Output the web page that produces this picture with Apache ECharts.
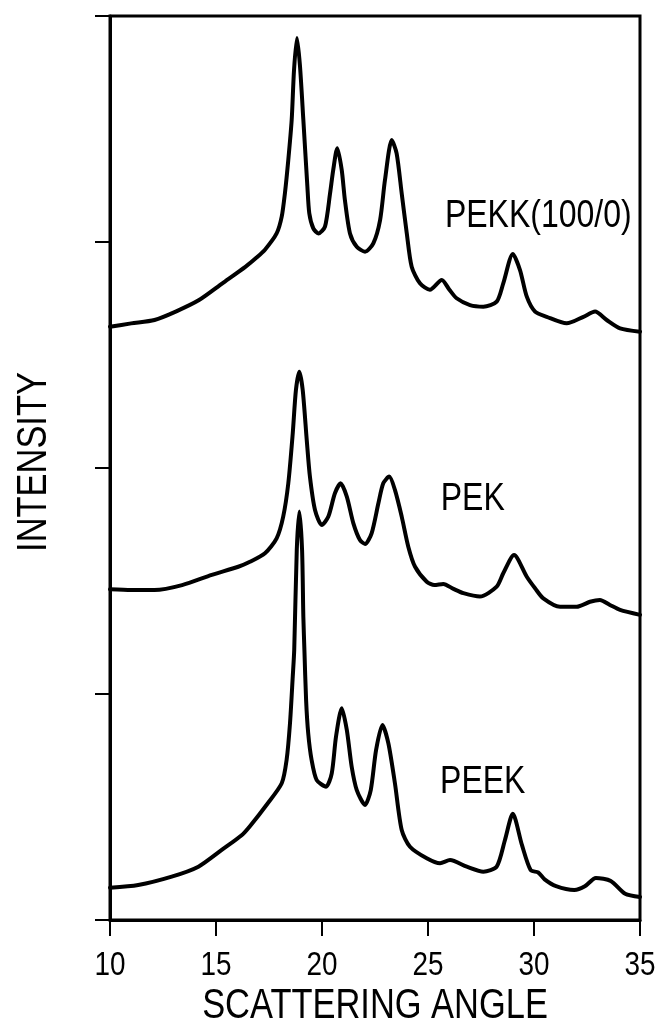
<!DOCTYPE html>
<html>
<head>
<meta charset="utf-8">
<script src="https://cdn.jsdelivr.net/npm/echarts@6/dist/echarts.min.js"></script>
<style>
  html, body { margin: 0; padding: 0; background: #fff; }
  #chart { width: 661px; height: 1029px; }
</style>
</head>
<body>
<div id="chart"></div>
<script>
// Wide-angle X-ray scattering traces, stacked with vertical offsets.
const angleTicks = [10, 15, 20, 25, 30, 35];
const xTitle = 'SCATTERING ANGLE';
const yTitle = 'INTENSITY';

const pekkAngle = [10.0, 11.0, 12.1, 13.1, 14.2, 15.3, 16.4, 16.9, 17.3, 17.86, 18.10, 18.25, 18.41, 18.57, 18.68, 18.82, 18.96, 19.12, 19.31, 19.40, 19.59, 19.83, 20.14, 20.38, 20.53, 20.72, 20.93, 21.08, 21.32, 21.64, 22.03, 22.42, 22.74, 22.97, 23.29, 23.52, 23.76, 24.0, 24.23, 24.62, 25.09, 25.65, 26.0, 26.35, 26.98, 27.61, 28.24, 28.55, 29.0, 29.34, 29.66, 30.05, 30.6, 31.54, 32.33, 32.88, 33.43, 34.06, 35.0];
const pekkIntensity = [2.625, 2.64, 2.655, 2.692, 2.743, 2.817, 2.891, 2.93, 2.965, 3.038, 3.112, 3.215, 3.363, 3.54, 3.761, 3.903, 3.78, 3.54, 3.246, 3.127, 3.06, 3.038, 3.068, 3.215, 3.319, 3.415, 3.319, 3.186, 3.038, 2.979, 2.957, 2.994, 3.097, 3.274, 3.451, 3.392, 3.215, 3.038, 2.891, 2.817, 2.789, 2.832, 2.79, 2.751, 2.721, 2.714, 2.736, 2.817, 2.947, 2.876, 2.758, 2.692, 2.669, 2.64, 2.669, 2.692, 2.655, 2.618, 2.603];

const pekAngle = [10.0, 11.0, 12.1, 13.4, 14.8, 16.05, 16.6, 17.31, 17.86, 18.17, 18.41, 18.62, 18.77, 18.93, 19.09, 19.28, 19.43, 19.67, 19.99, 20.30, 20.61, 20.88, 21.17, 21.48, 21.79, 22.03, 22.34, 22.66, 22.89, 23.17, 23.44, 23.76, 24.07, 24.39, 24.94, 25.3, 25.72, 26.2, 26.67, 27.45, 28.24, 28.55, 29.06, 29.66, 30.05, 30.44, 31.23, 32.01, 32.64, 33.11, 33.58, 34.06, 35.0];
const pekIntensity = [1.463, 1.46, 1.46, 1.482, 1.527, 1.563, 1.585, 1.623, 1.689, 1.785, 1.932, 2.153, 2.345, 2.426, 2.345, 2.124, 1.962, 1.814, 1.748, 1.785, 1.888, 1.932, 1.873, 1.755, 1.681, 1.664, 1.711, 1.844, 1.932, 1.962, 1.903, 1.785, 1.652, 1.563, 1.497, 1.482, 1.487, 1.465, 1.446, 1.431, 1.475, 1.534, 1.615, 1.519, 1.468, 1.423, 1.386, 1.386, 1.408, 1.416, 1.394, 1.372, 1.35];

const peekAngle = [10.0, 11.33, 12.91, 14.17, 15.27, 16.21, 16.6, 17.39, 18.10, 18.33, 18.49, 18.62, 18.69, 18.81, 18.93, 19.06, 19.12, 19.17, 19.25, 19.35, 19.51, 19.75, 20.19, 20.46, 20.66, 20.93, 21.17, 21.40, 21.64, 22.03, 22.30, 22.55, 22.85, 23.13, 23.44, 23.76, 24.15, 24.94, 25.57, 26.04, 26.83, 27.61, 28.24, 28.63, 29.0, 29.43, 29.84, 30.2, 30.5, 31.04, 31.9, 32.4, 32.92, 33.62, 34.3, 35.0];
const peekIntensity = [0.143, 0.155, 0.192, 0.236, 0.31, 0.375, 0.415, 0.51, 0.605, 0.708, 0.87, 1.077, 1.195, 1.637, 1.807, 1.637, 1.342, 1.195, 0.973, 0.826, 0.708, 0.619, 0.59, 0.649, 0.811, 0.937, 0.841, 0.678, 0.575, 0.509, 0.575, 0.752, 0.863, 0.782, 0.605, 0.398, 0.324, 0.273, 0.251, 0.265, 0.236, 0.214, 0.236, 0.354, 0.47, 0.332, 0.221, 0.21, 0.18, 0.15, 0.133, 0.149, 0.186, 0.173, 0.116, 0.102];

// Sample names and where each name is written (angle, intensity of the text's left-middle point)
const sampleNames = ['PEKK(100/0)', 'PEK', 'PEEK'];
const nameAnchors = [[25.8, 3.115], [25.6, 1.86], [25.57, 0.611]];

// Lettering is a narrow grotesque: regular sans, squeezed horizontally.
const FONT = "'Liberation Sans', Arial, sans-serif";
const SQUEEZE = 0.82;

function zip(xs, ys) { return xs.map((x, i) => [x, ys[i]]); }

function trace(name, xs, ys) {
  return {
    name: name,
    type: 'line',
    data: zip(xs, ys),
    showSymbol: false,
    smooth: 0.25,
    lineStyle: { color: '#000', width: 4, join: 'round', cap: 'round' },
    z: 3
  };
}

const chart = echarts.init(document.getElementById('chart'), null, { renderer: 'canvas' });
chart.setOption({
  animation: false,
  backgroundColor: '#fff',
  grid: { left: 110, right: 21, top: 16, bottom: 109, show: true, borderColor: '#000', borderWidth: 3 },
  xAxis: {
    type: 'value',
    min: angleTicks[0],
    max: angleTicks[angleTicks.length - 1],
    interval: angleTicks[1] - angleTicks[0],
    axisLine: { lineStyle: { color: '#000', width: 3 } },
    axisTick: { inside: false, length: 16, lineStyle: { color: '#000', width: 2 } },
    axisLabel: { show: false },
    splitLine: { show: false }
  },
  yAxis: {
    type: 'value',
    min: 0,
    max: 4,
    interval: 1,
    axisLine: { show: true, lineStyle: { color: '#000', width: 3 } },
    axisTick: { inside: false, length: 15, lineStyle: { color: '#000', width: 2 } },
    axisLabel: { show: false },
    splitLine: { show: false }
  },
  series: [
    trace(sampleNames[0], pekkAngle, pekkIntensity),
    trace(sampleNames[1], pekAngle, pekIntensity),
    trace(sampleNames[2], peekAngle, peekIntensity)
  ]
});

// Text placed through the axes' own scales.
function px(pt) { return chart.convertToPixel({ gridIndex: 0 }, pt); }

function squeezedText(x, y, text, size, align, vAlign, rotation) {
  return {
    type: 'text',
    x: x, y: y,
    rotation: rotation || 0,
    scaleX: SQUEEZE,
    silent: true,
    z: 10,
    style: {
      text: text,
      fill: '#000',
      font: size + 'px ' + FONT,
      textAlign: align,
      textVerticalAlign: vAlign
    }
  };
}

const graphics = [];
const axisBottom = px([angleTicks[0], 0])[1];
const axisLeft = px([angleTicks[0], 0])[0];
const axisRight = px([angleTicks[angleTicks.length - 1], 0])[0];
const axisTop = px([angleTicks[0], 4])[1];

angleTicks.forEach(t => {
  const p = px([t, 0]);
  graphics.push(squeezedText(p[0], axisBottom + 46, String(t), 34, 'center', 'middle'));
});
graphics.push(squeezedText((axisLeft + axisRight) / 2, axisBottom + 86, xTitle, 42, 'center', 'middle'));
graphics.push(squeezedText(axisLeft - 76, (axisTop + axisBottom) / 2 - 6, yTitle, 42, 'center', 'middle', Math.PI / 2));

sampleNames.forEach((n, i) => {
  const p = px(nameAnchors[i]);
  graphics.push(squeezedText(p[0], p[1], n, 39, 'left', 'middle'));
});

chart.setOption({ graphic: graphics });
</script>
</body>
</html>
